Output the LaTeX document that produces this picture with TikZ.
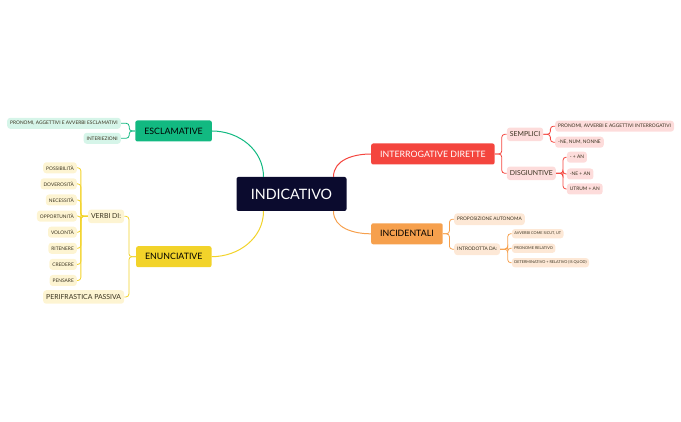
\documentclass[tikz,border=0pt]{standalone}
\usepackage{fontspec}
\setmainfont{Lato}
\definecolor{rootc}{HTML}{0B0B2E}
\definecolor{greenc}{HTML}{12B981}
\definecolor{greenl}{HTML}{D6F5E9}
\definecolor{yellowc}{HTML}{F2D32A}
\definecolor{yellowl}{HTML}{FDF4D2}
\definecolor{redc}{HTML}{F4453E}
\definecolor{redl}{HTML}{FDDCDB}
\definecolor{orangec}{HTML}{F6A04D}
\definecolor{orangel}{HTML}{FDE8D6}
\definecolor{txt}{HTML}{3A3320}
\newcommand{\fs}[1]{\fontsize{#1}{#1}\selectfont}
\tikzset{
  root/.style={fill=rootc, text=white, rounded corners=2pt, font=\fs{14.3},
    minimum width=110pt, minimum height=34pt},
  topic/.style={rounded corners=2pt, font=\fs{8.8}, inner xsep=9pt,
    minimum height=21pt, text=black},
  sub/.style={rounded corners=3pt, font=\fs{6.9}, inner xsep=3pt, inner ysep=0pt,
    minimum height=13.5pt, text=txt},
  smallsub/.style={rounded corners=3pt, font=\fs{4.8}, inner xsep=3pt, inner ysep=0pt,
    minimum height=11.7pt, text=txt},
  leaf/.style={rounded corners=3pt, font=\fs{4.85}, inner xsep=3pt, inner ysep=0pt,
    minimum height=11pt, text=txt},
  tinyleaf/.style={rounded corners=3pt, font=\fs{3.85}, inner xsep=2.5pt, inner ysep=0pt,
    minimum height=9.3pt, text=txt},
  branch/.style={line width=1pt},
  bracket/.style={line width=0.8pt, rounded corners=3pt},
}
\begin{document}
\begin{tikzpicture}[x=1pt,y=-1pt]
\useasboundingbox (0,0) rectangle (681,422);
% centre
\node[root] (ind) at (291.5,194) {INDICATIVO};
% ESCLAMATIVE
\node[topic, fill=greenc, anchor=east] (escl) at (212,131) {ESCLAMATIVE};
\node[leaf, fill=greenl, anchor=east] (esc1) at (121,123.3) {PRONOMI, AGGETTIVI E AVVERBI ESCLAMATIVI};
\node[leaf, fill=greenl, anchor=east] (esc2) at (121,138.3) {INTERIEZIONI};
\draw[branch, greenc] ([xshift=-28pt]ind.north) to[out=90,in=0] (escl.east);
\draw[bracket, greenc] (escl.west) -- ++(-6,0) |- (esc1.east);
\draw[bracket, greenc] (escl.west) -- ++(-6,0) |- (esc2.east);
% ENUNCIATIVE
\node[topic, fill=yellowc, anchor=east] (enun) at (211.7,256.7) {ENUNCIATIVE};
\node[sub, fill=yellowl, anchor=east] (verbi) at (124.3,216.3) {VERBI DI:};
\node[sub, fill=yellowl, anchor=east] (peri) at (124.3,297) {PERIFRASTICA PASSIVA};
\draw[branch, yellowc] ([xshift=-28pt]ind.south) to[out=-90,in=0] (enun.east);
\draw[bracket, yellowc] (enun.west) -- ++(-7,0) |- (verbi.east);
\draw[bracket, yellowc] (enun.west) -- ++(-7,0) |- (peri.east);
\foreach \t [count=\i] in {POSSIBILITÀ,DOVEROSITÀ,NECESSITÀ,OPPORTUNITÀ,VOLONTÀ,RITENERE,CREDERE,PENSARE} {
  \node[leaf, fill=yellowl, anchor=east] (verbo\i) at (77,{151.7+16.1*\i}) {\t};
  \draw[bracket, yellowc] (verbi.west) -- ++(-7,0) |- (verbo\i.east);
}
% INTERROGATIVE DIRETTE
\node[topic, fill=redc, text=white, anchor=west] (idir) at (371,154) {INTERROGATIVE DIRETTE};
\node[sub, fill=redl, anchor=west] (sempl) at (506.7,134.3) {SEMPLICI};
\node[sub, fill=redl, anchor=west] (disg) at (506.7,173.3) {DISGIUNTIVE};
\draw[branch, redc] ([xshift=42pt]ind.north) to[out=90,in=180] (idir.west);
\draw[bracket, redc] (idir.east) -- ++(7,0) |- (sempl.west);
\draw[bracket, redc] (idir.east) -- ++(7,0) |- (disg.west);
\node[leaf, fill=redl, anchor=west] (semp1) at (555,126.2) {PRONOMI, AVVERBI E AGGETTIVI INTERROGATIVI};
\node[leaf, fill=redl, anchor=west] (semp2) at (555,142.2) {-NE, NUM, NONNE};
\draw[bracket, redc] (sempl.east) -- ++(7,0) |- (semp1.west);
\draw[bracket, redc] (sempl.east) -- ++(7,0) |- (semp2.west);
\node[leaf, fill=redl, anchor=west] (disg1) at (566.7,157.2) {- + AN};
\node[leaf, fill=redl, anchor=west] (disg2) at (566.7,174) {-NE + AN};
\node[leaf, fill=redl, anchor=west] (disg3) at (566.7,189) {UTRUM + AN};
\foreach \n in {disg1,disg2,disg3}
  \draw[bracket, redc] (disg.east) -- ++(7,0) |- (\n.west);
% INCIDENTALI
\node[topic, fill=orangec, anchor=west] (inc) at (371,233.8) {INCIDENTALI};
\node[smallsub, fill=orangel, anchor=west] (prop) at (454,219.2) {PROPOSIZIONE AUTONOMA};
\node[smallsub, fill=orangel, anchor=west] (intr) at (454,249.2) {INTRODOTTA DA:};
\draw[branch, orangec] ([xshift=42pt]ind.south) to[out=-90,in=180] (inc.west);
\draw[bracket, orangec] (inc.east) -- ++(6.5,0) |- (prop.west);
\draw[bracket, orangec] (inc.east) -- ++(6.5,0) |- (intr.west);
\node[tinyleaf, fill=orangel, anchor=west] (intr1) at (511.7,233.7) {AVVERBI COME SICUT, UT};
\node[tinyleaf, fill=orangel, anchor=west] (intr2) at (511.7,248.3) {PRONOME RELATIVO};
\node[tinyleaf, fill=orangel, anchor=west] (intr3) at (511.7,262.7) {DETERMINATIVO + RELATIVO (IS QUOD)};
\foreach \n in {intr1,intr2,intr3}
  \draw[bracket, orangec] (intr.east) -- ++(7.5,0) |- (\n.west);
\end{tikzpicture}
\end{document}
